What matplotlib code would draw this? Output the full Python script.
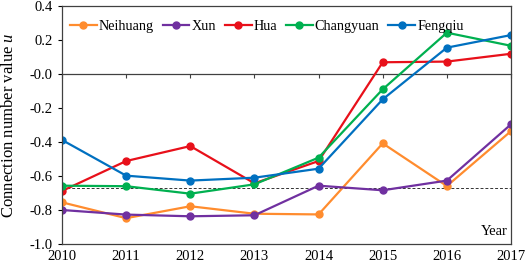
import numpy as np
import matplotlib.pyplot as plt

plt.rcParams['font.family'] = ['Liberation Serif', 'DejaVu Serif']
plt.rcParams['mathtext.fontset'] = 'custom'
plt.rcParams['mathtext.it'] = 'Liberation Serif:italic'

years = [2010, 2011, 2012, 2013, 2014, 2015, 2016, 2017]
neihuang = [-0.755, -0.848, -0.778, -0.822, -0.826, -0.408, -0.659, -0.336]
xun = [-0.800, -0.827, -0.837, -0.831, -0.657, -0.684, -0.627, -0.296]
hua = [-0.688, -0.512, -0.424, -0.643, -0.512, 0.069, 0.073, 0.119]
changyuan = [-0.657, -0.660, -0.704, -0.649, -0.492, -0.090, 0.243, 0.166]
fengqiu = [-0.388, -0.598, -0.627, -0.610, -0.557, -0.149, 0.155, 0.229]
threshold = -0.672

series = [
    ('Neihuang', neihuang, '#FF8C2E'),
    ('Xun', xun, '#7030A0'),
    ('Hua', hua, '#E8101A'),
    ('Changyuan', changyuan, '#00B050'),
    ('Fengqiu', fengqiu, '#0070C0'),
]

fig = plt.figure(figsize=(5.26, 2.68), dpi=100)
ax = fig.add_axes([62/526, 24/268, 449/526, 238/268])

for name, vals, col in series:
    ax.plot(years, vals, color=col, lw=1.6, marker='o', ms=5, label=name)

ax.axhline(threshold, color='#333333', lw=0.7, ls=(0, (3, 2)), zorder=1)

ax.set_xlim(2010, 2017)
ax.set_ylim(-1.0, 0.4)
ax.set_yticks(np.arange(-1.0, 0.41, 0.2))
ax.set_yticklabels(['%.1f' % v for v in np.arange(-1.0, 0.41, 0.2)])
ax.set_xticks(years)
ax.tick_params(axis='x', length=0, pad=4, labelsize=10.5)
ax.tick_params(axis='y', direction='out', length=3, labelsize=10.5)
for s in ax.spines.values():
    s.set_color('#404040')
    s.set_linewidth(0.9)

# zero line with upward ticks
sec = ax.secondary_xaxis(1.0 / 1.4)
sec.set_xticks(years)
sec.tick_params(direction='in', length=3, labelbottom=False, labeltop=False, color='#404040')
sec.spines['bottom'].set_color('#404040')
sec.spines['top'].set_color('#404040')
sec.spines['top'].set_linewidth(0.9)
sec.spines['bottom'].set_linewidth(0.9)

ax.set_ylabel('Connection number value $u$', fontsize=12)
ax.yaxis.set_label_coords(-0.1, 0.5)
ax.text(0.993, 0.025, 'Year', transform=ax.transAxes, ha='right', va='bottom', fontsize=10.5)

ax.legend(loc='upper left', bbox_to_anchor=(-0.014, 1.0), ncol=5, frameon=False,
          fontsize=10.2, handlelength=1.9, handletextpad=0.15, columnspacing=0.6,
          borderaxespad=0.9, borderpad=0.1)

fig.savefig('out.png', dpi=100)
